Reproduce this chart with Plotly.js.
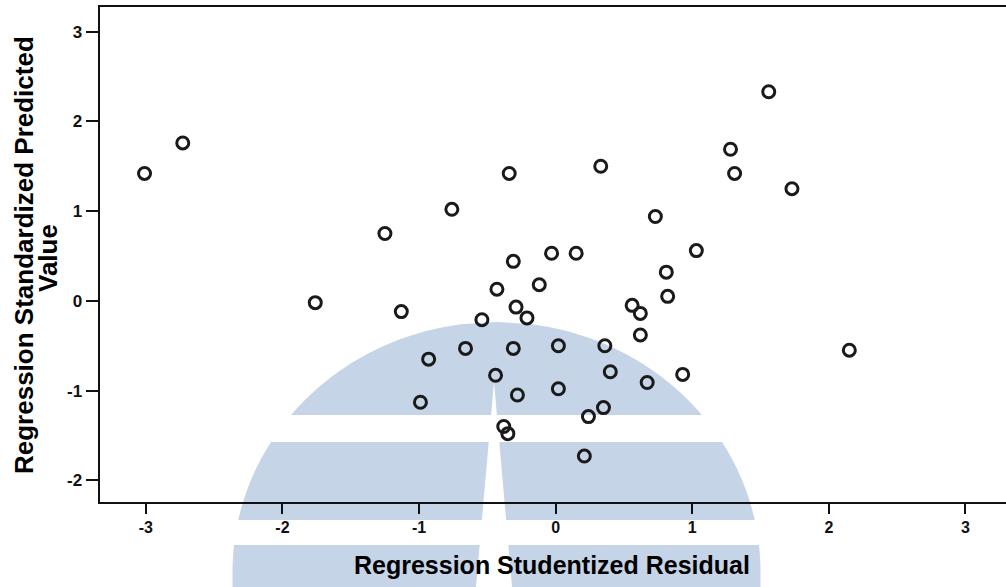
<!DOCTYPE html>
<html>
<head>
<meta charset="utf-8">
<script src="https://cdn.plot.ly/plotly-3.0.1.min.js"></script>
<style>
  html, body { margin: 0; padding: 0; background: #ffffff; }
  #chart { width: 1006px; height: 587px; }
</style>
</head>
<body>
<div id="chart"></div>
<script>
// ---- data ----
const studentizedResidual = [
  -3.01, -2.73, 1.56, 1.28, 1.31, 1.73, 0.33, 0.73, -0.34, -0.76,
  -1.25, -0.31, -0.03, 0.15, 1.03, 0.81, 0.82, 0.56, 0.62, -0.43,
  -0.12, -1.76, -1.13, -0.29, -0.21, -0.54, -0.93, -0.66, -0.31, 0.02,
  0.36, 0.40, 0.67, 0.93, -0.44, -0.28, 0.02, -0.99, 0.24, 0.35,
  -0.38, -0.35, 0.21, 2.15, 0.62
];
const standardizedPredicted = [
  1.42, 1.76, 2.33, 1.69, 1.42, 1.25, 1.50, 0.94, 1.42, 1.02,
  0.75, 0.44, 0.53, 0.53, 0.56, 0.32, 0.05, -0.05, -0.14, 0.13,
  0.18, -0.02, -0.12, -0.07, -0.19, -0.21, -0.65, -0.53, -0.53, -0.50,
  -0.50, -0.79, -0.91, -0.82, -0.83, -1.05, -0.98, -1.13, -1.29, -1.19,
  -1.40, -1.48, -1.73, -0.55, -0.38
];
const xTickVals = [-3, -2, -1, 0, 1, 2, 3];
const xTickText = ['-3', '-2', '-1', '0', '1', '2', '3'];
const yTickVals = [-2, -1, 0, 1, 2, 3];
const yTickText = ['-2', '-1', '0', '1', '2', '3'];
const xTitle = 'Regression Studentized Residual';
const yTitleLine1 = 'Regression Standardized Predicted';
const yTitleLine2 = 'Value';

// ---- layout geometry ----
const W = 1006, H = 587;
const M = { l: 100, r: 0, t: 7, b: 85 };
const PW = W - M.l - M.r, PH = H - M.t - M.b;
function toPaper(px, py) { return [(px - M.l) / PW, (H - M.b - py) / PH]; }

// ---- background watermark (decorative dome) ----
const wm = { cx: 496.5, cy: 572, a: 264, b: 250, color: '#c6d4e7' };
function halfWidth(y) {
  let d = (wm.cy - y) / wm.b; if (d < 0) d = 0;
  return wm.a * Math.sqrt(Math.max(0, 1 - d * d));
}
function pathFrom(pts) {
  return 'M ' + pts.map(p => { const q = toPaper(p[0], p[1]); return q[0].toFixed(5) + ',' + q[1].toFixed(5); }).join(' L ') + ' Z';
}
const bands = [[322, 415], [442, 520], [545, 600]];
const shapes = [];
bands.forEach(([y0, y1]) => {
  const left = [], right = [];
  const n = 40;
  for (let i = 0; i <= n; i++) {
    const y = y0 + (y1 - y0) * i / n;
    const hw = halfWidth(y);
    left.push([wm.cx - hw, y]);
    right.push([wm.cx + hw, y]);
  }
  const pts = left.concat(right.reverse());
  shapes.push({ type: 'path', xref: 'paper', yref: 'paper', path: pathFrom(pts),
    fillcolor: wm.color, line: { width: 0 }, layer: 'below' });
});
// vertical gap wedge
const gapTop = [494, 382], slope = 0.088;
shapes.push({ type: 'path', xref: 'paper', yref: 'paper',
  path: pathFrom([gapTop, [gapTop[0] - slope * (600 - gapTop[1]), 600], [gapTop[0] + slope * (600 - gapTop[1]), 600]]),
  fillcolor: '#ffffff', line: { width: 0 }, layer: 'below' });

const font = 'Liberation Sans, Arial, sans-serif';

const trace = {
  type: 'scatter', mode: 'markers',
  x: studentizedResidual, y: standardizedPredicted,
  marker: { symbol: 'circle-open', size: 12, color: '#1a1a1a', line: { width: 3, color: '#1a1a1a' } },
  hoverinfo: 'skip'
};

const layout = {
  width: W, height: H,
  margin: M,
  paper_bgcolor: '#ffffff',
  plot_bgcolor: 'rgba(0,0,0,0)',
  showlegend: false,
  xaxis: {
    range: [-3.336, 3.297], tickmode: 'array', tickvals: xTickVals, ticktext: xTickText,
    showgrid: false, zeroline: false, showline: true, mirror: true,
    linecolor: '#111', linewidth: 2, ticks: 'outside', ticklen: 10, tickwidth: 2, tickcolor: '#111',
    tickfont: { family: font, size: 16, color: '#111', weight: 'bold' }
  },
  yaxis: {
    range: [-2.242, 3.275], tickmode: 'array', tickvals: yTickVals, ticktext: yTickText,
    showgrid: false, zeroline: false, showline: true, mirror: false,
    linecolor: '#111', linewidth: 2.5, ticks: 'outside', ticklen: 12, tickwidth: 2, tickcolor: '#111',
    tickfont: { family: font, size: 17, color: '#111', weight: 'bold' }
  },
  shapes: shapes,
  annotations: [
    { text: xTitle, xref: 'paper', yref: 'paper', x: toPaper(552, 0)[0], y: toPaper(0, 565)[1],
      xanchor: 'center', yanchor: 'middle', showarrow: false,
      font: { family: font, size: 25, color: '#000', weight: 'bold' } },
    { text: yTitleLine1, xref: 'paper', yref: 'paper', x: toPaper(24, 0)[0], y: toPaper(0, 255)[1],
      xanchor: 'center', yanchor: 'middle', showarrow: false, textangle: -90,
      font: { family: font, size: 26, color: '#000', weight: 'bold' } },
    { text: yTitleLine2, xref: 'paper', yref: 'paper', x: toPaper(48, 0)[0], y: toPaper(0, 258)[1],
      xanchor: 'center', yanchor: 'middle', showarrow: false, textangle: -90,
      font: { family: font, size: 26, color: '#000', weight: 'bold' } }
  ]
};

Plotly.newPlot('chart', [trace], layout, { staticPlot: true, displayModeBar: false });
</script>
</body>
</html>
